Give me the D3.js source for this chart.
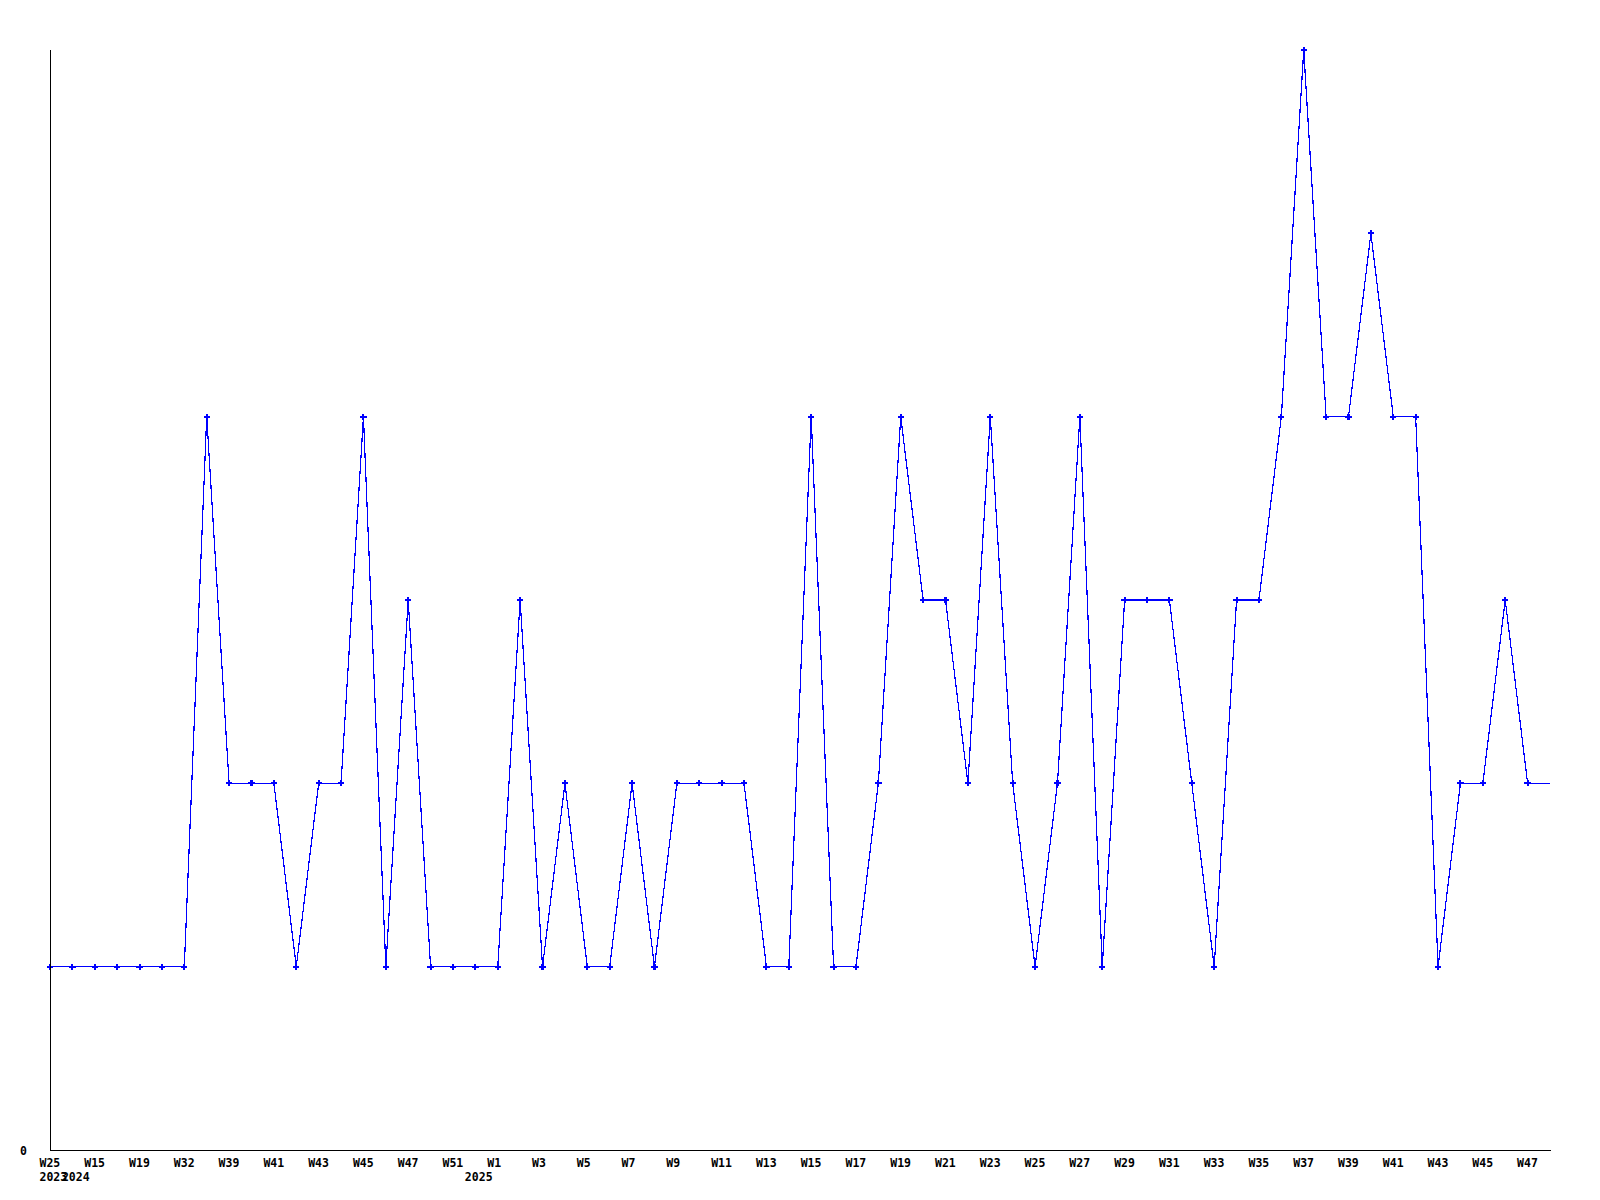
<!DOCTYPE html>
<html>
  <head>
    <meta charset="utf-8">
    <title>Weekly count</title>
    <script src="https://d3js.org/d3.v7.min.js"></script>
    <style>
      body { margin: 0; background: #fff; }
      svg { display: block; }
      text { font-family: "DejaVu Sans Mono", monospace; font-weight: bold; font-size: 11.5px; fill: #000; }
    </style>
  </head>
  <body>
    <svg id="svg" width="1600" height="1200">
      <g id="plot"></g>
      <g id="axes"></g>
      <g id="labels"></g>
    </svg>
    <script>
      // data, one entry per point (year of the week, week label, count)
      var years = [2023,
        2024, 2024, 2024, 2024, 2024, 2024, 2024, 2024, 2024, 2024, 2024, 2024, 2024, 2024, 2024, 2024, 2024, 2024,
        2025, 2025, 2025, 2025, 2025, 2025, 2025, 2025, 2025, 2025, 2025, 2025, 2025, 2025, 2025, 2025, 2025, 2025,
        2025, 2025, 2025, 2025, 2025, 2025, 2025, 2025, 2025, 2025, 2025, 2025, 2025, 2025, 2025, 2025, 2025, 2025,
        2025, 2025, 2025, 2025, 2025, 2025, 2025, 2025, 2025, 2025, 2025, 2025, 2025, 2025, 2025];
      var weeks = ["W25",
        "W13", "W15", "W17", "W19", "W26", "W32", "W38", "W39", "W40", "W41", "W42", "W43", "W44", "W45", "W46", "W47", "W49", "W51",
        "W0", "W1", "W2", "W3", "W4", "W5", "W6", "W7", "W8", "W9", "W10", "W11", "W12", "W13", "W14", "W15", "W16", "W17",
        "W18", "W19", "W20", "W21", "W22", "W23", "W24", "W25", "W26", "W27", "W28", "W29", "W30", "W31", "W32", "W33", "W34", "W35",
        "W36", "W37", "W38", "W39", "W40", "W41", "W42", "W43", "W44", "W45", "W46", "W47", "W48"];
      var counts = [1,
        1, 1, 1, 1, 1, 1, 4, 2, 2, 2, 1, 2, 2, 4, 1, 3, 1, 1,
        1, 1, 3, 1, 2, 1, 1, 2, 1, 2, 2, 2, 2, 1, 1, 4, 1, 1,
        2, 4, 3, 3, 2, 4, 2, 1, 2, 4, 1, 3, 3, 3, 2, 1, 3, 3,
        4, 6, 4, 4, 5, 4, 4, 1, 2, 2, 3, 2, 2];
      var yTicks = [0];

      var svg = d3.select("#svg");
      var plotLeft = 50, plotRight = 1550, plotTop = 50, plotBottom = 1150;

      var x = d3.scalePoint()
        .domain(d3.range(counts.length))
        .range([plotLeft, plotRight]);
      var y = d3.scaleLinear()
        .domain([0, d3.max(counts)])
        .range([plotBottom, plotTop]);

      // line
      var line = d3.line()
        .x(function(d, i) { return x(i); })
        .y(function(d) { return y(d); });
      var plot = d3.select("#plot");
      plot.append("path")
        .datum(counts)
        .attr("d", line)
        .attr("fill", "none")
        .attr("stroke", "#0000ff")
        .attr("stroke-width", 1.2)
        .attr("shape-rendering", "crispEdges");
      // markers (not on the last point, which sits on the frame edge)
      var marker = d3.symbol().type(d3.symbolCross).size(22);
      plot.selectAll(".marker")
          .data(counts.slice(0, -1))
        .enter().append("path")
          .classed("marker", true)
          .attr("d", marker)
          .attr("transform", function(d, i) { return "translate(" + x(i) + "," + y(d) + ")"; })
          .attr("fill", "#0000ff")
          .attr("shape-rendering", "crispEdges");

      // axes: plain lines, no ticks
      var axes = d3.select("#axes");
      axes.append("line")
        .attr("x1", plotLeft + 0.5).attr("x2", plotLeft + 0.5)
        .attr("y1", plotTop).attr("y2", plotBottom + 0.5)
        .attr("stroke", "#000").attr("shape-rendering", "crispEdges");
      axes.append("line")
        .attr("x1", plotLeft).attr("x2", plotRight + 0.5)
        .attr("y1", plotBottom + 0.5).attr("y2", plotBottom + 0.5)
        .attr("stroke", "#000").attr("shape-rendering", "crispEdges");

      var labels = d3.select("#labels");
      labels.selectAll(".ytick")
          .data(yTicks)
        .enter().append("text")
          .classed("ytick", true)
          .attr("x", 20)
          .attr("y", function(d) { return y(d) + 4.5; })
          .text(function(d) { return d; });
      // week labels on every second point
      labels.selectAll(".week")
          .data(weeks.filter(function(d, i) { return i % 2 == 0; }))
        .enter().append("text")
          .classed("week", true)
          .attr("x", function(d, i) { return x(i * 2) - 10.5; })
          .attr("y", 1166.5)
          .text(function(d) { return d; });
      // year label where the year changes
      labels.selectAll(".year")
          .data(years.map(function(d, i) { return {year: d, i: i}; })
            .filter(function(d) { return d.i == 0 || years[d.i - 1] != d.year; }))
        .enter().append("text")
          .classed("year", true)
          .attr("x", function(d) { return x(d.i) - 10.5; })
          .attr("y", 1181)
          .text(function(d) { return d.year; });
    </script>
  </body>
</html>
